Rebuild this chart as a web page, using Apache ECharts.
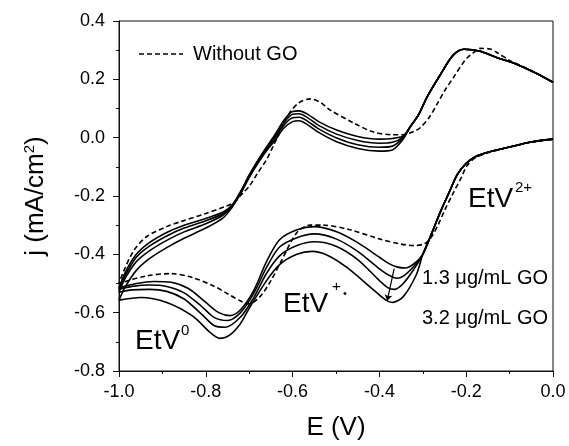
<!DOCTYPE html>
<html>
<head>
<meta charset="utf-8">
<script src="https://cdn.jsdelivr.net/npm/echarts@6/dist/echarts.min.js"></script>
<style>
  html, body { margin: 0; padding: 0; background: #fff; }
  #echart { width: 569px; height: 446px; }
</style>
</head>
<body>
<div id="echart"></div>
<script>
// E (V) vs j (mA/cm2); every curve is a closed CV loop
var xTicks = [-1.0, -0.8, -0.6, -0.4, -0.2, 0.0];
var yTicks = [-0.8, -0.6, -0.4, -0.2, 0.0, 0.2, 0.4];

// without GO (dashed)
var noGoCathodic = [[0,-0.005],[-0.05,-0.015],[-0.1,-0.032],[-0.15,-0.052],[-0.18,-0.07],[-0.2,-0.1],[-0.21,-0.133],[-0.23,-0.19],[-0.25,-0.25],[-0.265,-0.3],[-0.28,-0.34],[-0.295,-0.363],[-0.32,-0.37],[-0.35,-0.365],[-0.4,-0.347],[-0.47,-0.315],[-0.53,-0.3],[-0.56,-0.3],[-0.59,-0.325],[-0.625,-0.42],[-0.65,-0.49],[-0.675,-0.545],[-0.7,-0.57],[-0.72,-0.56],[-0.75,-0.535],[-0.78,-0.51],[-0.83,-0.48],[-0.88,-0.466],[-0.94,-0.475],[-1.0,-0.5]];
var noGoAnodic = [[-1.0,-0.5],[-0.99,-0.46],[-0.965,-0.385],[-0.935,-0.338],[-0.89,-0.305],[-0.856,-0.287],[-0.8,-0.26],[-0.757,-0.237],[-0.735,-0.222],[-0.715,-0.19],[-0.7,-0.167],[-0.68,-0.12],[-0.66,-0.075],[-0.645,-0.03],[-0.63,0.017],[-0.607,0.085],[-0.585,0.12],[-0.56,0.133],[-0.535,0.12],[-0.515,0.096],[-0.46,0.051],[-0.415,0.02],[-0.37,0.01],[-0.346,0.01],[-0.32,0.022],[-0.306,0.034],[-0.285,0.07],[-0.268,0.113],[-0.25,0.16],[-0.23,0.205],[-0.21,0.25],[-0.198,0.273],[-0.18,0.295],[-0.168,0.306],[-0.145,0.304],[-0.127,0.29],[-0.1,0.265],[-0.05,0.23],[0,0.19]];

// with GO, shared parts of the four solid loops
var goCathodicStart = [[0,-0.005],[-0.05,-0.015],[-0.1,-0.032],[-0.15,-0.05],[-0.18,-0.066],[-0.2,-0.088],[-0.22,-0.125],[-0.24,-0.19],[-0.26,-0.256],[-0.28,-0.33],[-0.3,-0.4]];
var goAnodicEnd = [[-0.33,0.035],[-0.31,0.078],[-0.29,0.14],[-0.26,0.215],[-0.23,0.283],[-0.205,0.303],[-0.17,0.297],[-0.13,0.275],[-0.09,0.255],[-0.04,0.222],[0,0.19]];

// with GO, 1.3 ug/mL (top) ... 3.2 ug/mL (bottom)
var go1Cathodic = [[-0.32,-0.432],[-0.34,-0.447],[-0.36,-0.443],[-0.38,-0.43],[-0.4,-0.41],[-0.45,-0.36],[-0.5,-0.322],[-0.55,-0.305],[-0.59,-0.316],[-0.63,-0.35],[-0.66,-0.425],[-0.69,-0.525],[-0.72,-0.59],[-0.745,-0.61],[-0.77,-0.6],[-0.8,-0.565],[-0.84,-0.517],[-0.88,-0.496],[-0.92,-0.493],[-0.96,-0.5],[-1.0,-0.515]];
var go2Cathodic = [[-0.32,-0.44],[-0.345,-0.475],[-0.36,-0.482],[-0.38,-0.47],[-0.4,-0.45],[-0.45,-0.39],[-0.5,-0.347],[-0.55,-0.33],[-0.59,-0.343],[-0.63,-0.375],[-0.66,-0.445],[-0.69,-0.535],[-0.72,-0.6],[-0.75,-0.627],[-0.78,-0.617],[-0.81,-0.578],[-0.85,-0.532],[-0.89,-0.51],[-0.93,-0.505],[-0.97,-0.51],[-1.0,-0.52]];
var go3Cathodic = [[-0.32,-0.45],[-0.345,-0.5],[-0.365,-0.52],[-0.38,-0.515],[-0.4,-0.49],[-0.45,-0.418],[-0.5,-0.372],[-0.55,-0.357],[-0.59,-0.37],[-0.63,-0.405],[-0.66,-0.465],[-0.69,-0.55],[-0.72,-0.615],[-0.755,-0.65],[-0.78,-0.645],[-0.81,-0.605],[-0.85,-0.553],[-0.89,-0.527],[-0.93,-0.52],[-0.97,-0.522],[-1.0,-0.53]];
var go4Cathodic = [[-0.315,-0.47],[-0.345,-0.545],[-0.37,-0.565],[-0.385,-0.557],[-0.415,-0.52],[-0.475,-0.445],[-0.52,-0.403],[-0.555,-0.39],[-0.59,-0.4],[-0.63,-0.435],[-0.66,-0.49],[-0.7,-0.585],[-0.72,-0.637],[-0.745,-0.677],[-0.768,-0.688],[-0.79,-0.668],[-0.83,-0.612],[-0.89,-0.565],[-0.95,-0.548],[-1.0,-0.557]];

var go1Anodic = [[-1.0,-0.515],[-0.985,-0.46],[-0.96,-0.4],[-0.93,-0.36],[-0.89,-0.325],[-0.85,-0.3],[-0.8,-0.277],[-0.76,-0.255],[-0.74,-0.232],[-0.72,-0.185],[-0.7,-0.128],[-0.68,-0.078],[-0.66,-0.032],[-0.64,0.012],[-0.62,0.06],[-0.6,0.09],[-0.585,0.092],[-0.565,0.08],[-0.54,0.055],[-0.5,0.027],[-0.45,0.004],[-0.4,-0.005],[-0.37,-0.003],[-0.345,0.006]];
var go2Anodic = [[-1.0,-0.52],[-0.985,-0.47],[-0.96,-0.41],[-0.93,-0.372],[-0.89,-0.337],[-0.85,-0.31],[-0.8,-0.285],[-0.76,-0.26],[-0.74,-0.234],[-0.72,-0.187],[-0.7,-0.13],[-0.68,-0.08],[-0.66,-0.035],[-0.64,0.007],[-0.62,0.052],[-0.6,0.08],[-0.585,0.082],[-0.565,0.068],[-0.54,0.042],[-0.5,0.013],[-0.45,-0.01],[-0.4,-0.019],[-0.37,-0.016],[-0.345,0.003]];
var go3Anodic = [[-1.0,-0.53],[-0.985,-0.48],[-0.96,-0.425],[-0.93,-0.388],[-0.89,-0.352],[-0.85,-0.323],[-0.8,-0.295],[-0.76,-0.265],[-0.74,-0.236],[-0.72,-0.19],[-0.7,-0.133],[-0.68,-0.083],[-0.66,-0.04],[-0.64,0.0],[-0.62,0.043],[-0.6,0.068],[-0.585,0.07],[-0.565,0.056],[-0.54,0.03],[-0.5,0.0],[-0.45,-0.024],[-0.4,-0.033],[-0.37,-0.029],[-0.345,0.0]];
var go4Anodic = [[-1.0,-0.557],[-0.985,-0.51],[-0.96,-0.455],[-0.93,-0.415],[-0.89,-0.377],[-0.85,-0.345],[-0.8,-0.31],[-0.76,-0.275],[-0.74,-0.24],[-0.72,-0.193],[-0.7,-0.137],[-0.68,-0.088],[-0.66,-0.045],[-0.64,-0.008],[-0.62,0.033],[-0.6,0.055],[-0.585,0.058],[-0.565,0.044],[-0.54,0.018],[-0.5,-0.013],[-0.45,-0.037],[-0.4,-0.046],[-0.37,-0.042],[-0.345,-0.005]];

// arrow showing increasing GO
var arrowFrom = [-0.366, -0.449];
var arrowTo = [-0.382, -0.559];

var myChart = echarts.init(document.getElementById('echart'));
var font = '"Liberation Sans", Arial, sans-serif';

function goSeries(name, cath, anod, extra) {
	var s = {
		name: name,
		type: 'line',
		data: goCathodicStart.concat(cath, anod, goAnodicEnd),
		showSymbol: false,
		symbol: 'none',
		smooth: 0.3,
		lineStyle: { color: '#000', width: 1.6 },
		z: 3,
		silent: true
	};
	if (extra) s.markLine = extra;
	return s;
}

function txt(x, y, s, size) {
	return { type: 'text', x: x, y: y, style: { text: s, font: size + 'px ' + font, fill: '#000', verticalAlign: 'middle' } };
}

option = {
	animation: false,
	backgroundColor: '#fff',
	grid: {
		left: 119, right: 16, top: 21, bottom: 74,
		show: true, borderColor: '#111', borderWidth: 1
	},
	xAxis: {
		type: 'value',
		min: xTicks[0], max: xTicks[xTicks.length - 1], interval: 0.2,
		name: 'E (V)',
		nameLocation: 'middle',
		nameGap: 44,
		nameTextStyle: { fontFamily: font, fontSize: 26, color: '#000' },
		axisLine: { onZero: false, lineStyle: { color: '#111', width: 1 } },
		axisTick: { inside: false, length: 6, lineStyle: { color: '#111' } },
		minorTick: { show: true, splitNumber: 2, length: 3, lineStyle: { color: '#111' } },
		splitLine: { show: false },
		axisLabel: {
			margin: 12, fontFamily: font, fontSize: 18, color: '#000',
			formatter: function (v) { return v.toFixed(1); }
		}
	},
	yAxis: {
		type: 'value',
		min: yTicks[0], max: yTicks[yTicks.length - 1], interval: 0.2,
		name: 'j (mA/cm{sup|2})',
		nameLocation: 'middle',
		nameRotate: 90,
		nameGap: 70,
		nameTextStyle: {
			fontFamily: font, fontSize: 26, color: '#000',
			rich: { sup: { fontFamily: font, fontSize: 15, color: '#000', verticalAlign: 'top', padding: [0, 0, 12, 0] } }
		},
		axisLine: { show: true, onZero: false, lineStyle: { color: '#111', width: 1 } },
		axisTick: { show: true, inside: false, length: 6, lineStyle: { color: '#111' } },
		minorTick: { show: true, splitNumber: 2, length: 3, lineStyle: { color: '#111' } },
		splitLine: { show: false },
		axisLabel: {
			margin: 14, fontFamily: font, fontSize: 18, color: '#000',
			formatter: function (v) { return v.toFixed(1); }
		}
	},
	series: [
		{
			name: 'Without GO',
			type: 'line',
			data: noGoCathodic.concat(noGoAnodic),
			showSymbol: false,
			symbol: 'none',
			smooth: 0.3,
			lineStyle: { color: '#000', width: 1.6, type: [5, 3] },
			z: 4,
			silent: true
		},
		goSeries('go1', go1Cathodic, go1Anodic),
		goSeries('go2', go2Cathodic, go2Anodic),
		goSeries('go3', go3Cathodic, go3Anodic),
		goSeries('go4', go4Cathodic, go4Anodic, {
			silent: true,
			symbol: ['none', 'arrow'],
			symbolSize: 6,
			label: { show: false },
			lineStyle: { color: '#000', width: 1.2, type: 'solid' },
			data: [[{ coord: arrowFrom }, { coord: arrowTo }]]
		})
	],
	graphic: [
		// legend sample
		{ type: 'line', shape: { x1: 139, y1: 54, x2: 183, y2: 54 }, style: { stroke: '#000', lineWidth: 1.6, lineDash: [5, 3] } },
		txt(193, 54, 'Without GO', 20),
		txt(135, 341, 'EtV', 28),
		txt(181, 331, '0', 15),
		txt(283, 304, 'EtV', 28),
		txt(332, 287, '+', 15),
		txt(343, 294, '\u2022', 11),
		txt(468, 199, 'EtV', 28),
		txt(515, 188, '2+', 15),
		txt(422, 278, '1.3 \u03bcg/mL GO', 20),
		txt(422, 318, '3.2 \u03bcg/mL GO', 20)
	]
};

myChart.setOption(option);
</script>
</body>
</html>
